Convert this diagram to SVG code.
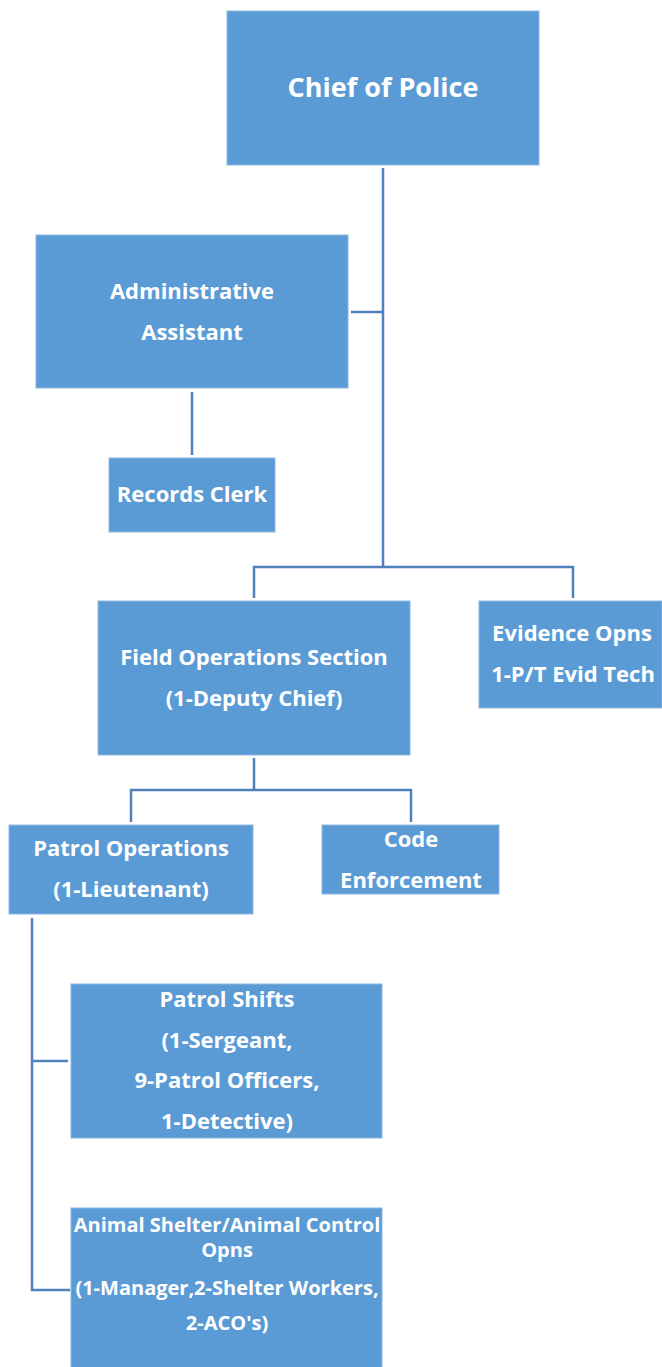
<svg xmlns="http://www.w3.org/2000/svg" width="662" height="1367" viewBox="0 0 662 1367">
<style>
.box{fill:#5B9BD5;stroke:#8DB7E2;stroke-width:1}
.t{fill:#FFFFFF;font-family:"Open Sans","Liberation Sans",sans-serif;font-weight:bold;text-anchor:middle;font-size:22px}
.s{font-size:20px}
.c{fill:none;stroke:#4F81BD;stroke-width:2.5}
</style>
<rect width="662" height="1367" fill="#FFFFFF"/>
<g id="connectors">
<path class="c" d="M383,168 V567"/>
<path class="c" d="M351,312 H383"/>
<path class="c" d="M192,392 V455"/>
<path class="c" d="M254,598 V567 H573 V598"/>
<path class="c" d="M254,758 V790"/>
<path class="c" d="M131,822 V790 H411 V822"/>
<path class="c" d="M32,918 V1290 H70"/>
<path class="c" d="M32,1061 H68"/>
</g>
<g id="chief">
<rect class="box" x="227" y="11" width="312" height="154"/>
<text class="t" x="383" y="97" style="font-size:27px">Chief of Police</text>
</g>
<g id="admin">
<rect class="box" x="36" y="235" width="312" height="153"/>
<text class="t" x="192" y="299">Administrative</text>
<text class="t" x="192" y="340">Assistant</text>
</g>
<g id="records">
<rect class="box" x="109" y="458" width="166" height="74"/>
<text class="t" x="192" y="502">Records Clerk</text>
</g>
<g id="field">
<rect class="box" x="98" y="601" width="312" height="154"/>
<text class="t" x="254" y="665">Field Operations Section</text>
<text class="t" x="254" y="706">(1-Deputy Chief)</text>
</g>
<g id="evidence">
<rect class="box" x="479" y="601" width="183" height="107"/>
<text class="t" x="572" y="641">Evidence Opns</text>
<text class="t" x="573" y="682">1-P/T Evid Tech</text>
</g>
<g id="patrolops">
<rect class="box" x="9" y="825" width="244" height="89"/>
<text class="t" x="131" y="856">Patrol Operations</text>
<text class="t" x="131" y="897">(1-Lieutenant)</text>
</g>
<g id="code">
<rect class="box" x="322" y="825" width="177" height="69"/>
<text class="t" x="411" y="847">Code</text>
<text class="t" x="411" y="888">Enforcement</text>
</g>
<g id="shifts">
<rect class="box" x="71" y="984" width="311" height="154"/>
<text class="t" x="227" y="1007">Patrol Shifts</text>
<text class="t" x="227" y="1048">(1-Sergeant,</text>
<text class="t" x="227" y="1088">9-Patrol Officers,</text>
<text class="t" x="227" y="1129">1-Detective)</text>
</g>
<g id="animal">
<rect class="box" x="71" y="1208" width="311" height="165"/>
<text class="t s" x="227" y="1232">Animal Shelter/Animal Control</text>
<text class="t s" x="227" y="1257">Opns</text>
<text class="t s" x="227" y="1295">(1-Manager,2-Shelter Workers,</text>
<text class="t s" x="227" y="1330">2-ACO's)</text>
</g>
</svg>
